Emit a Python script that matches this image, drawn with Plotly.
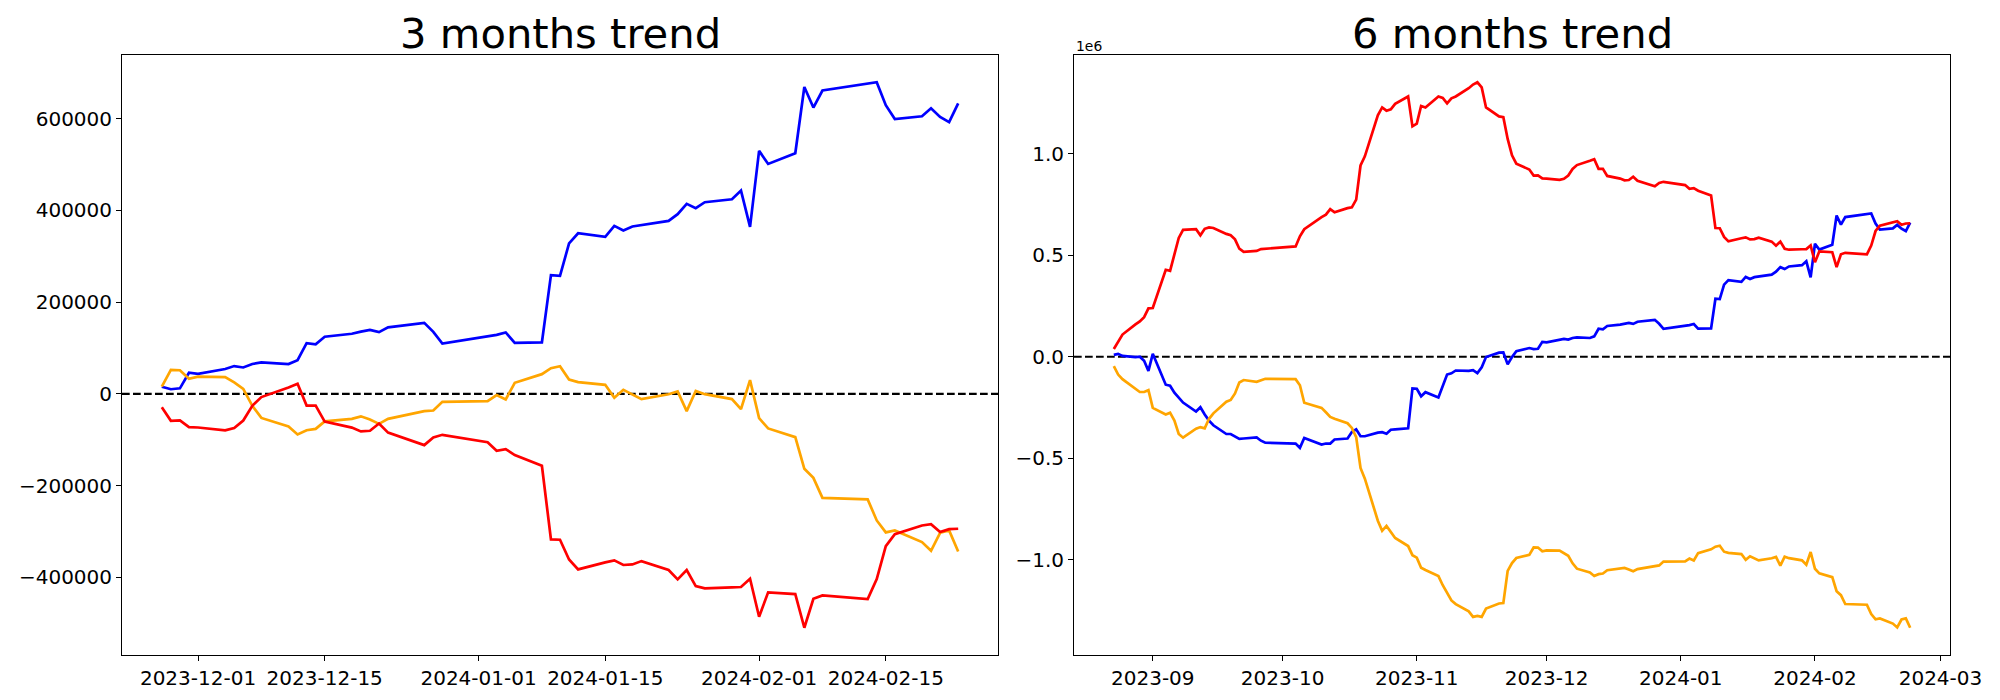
import plotly.graph_objects as go
import pandas as pd

# ---------------- data ----------------
L_DATES = ["2023-11-27", "2023-11-28", "2023-11-29", "2023-11-30", "2023-12-01",
           "2023-12-04", "2023-12-05", "2023-12-06", "2023-12-07", "2023-12-08",
           "2023-12-11", "2023-12-12", "2023-12-13", "2023-12-14", "2023-12-15",
           "2023-12-18", "2023-12-19", "2023-12-20", "2023-12-21", "2023-12-22",
           "2023-12-26", "2023-12-27", "2023-12-28",
           "2024-01-02", "2024-01-03", "2024-01-04", "2024-01-05",
           "2024-01-08", "2024-01-09", "2024-01-10", "2024-01-11", "2024-01-12",
           "2024-01-15", "2024-01-16", "2024-01-17", "2024-01-18", "2024-01-19",
           "2024-01-22", "2024-01-23", "2024-01-24", "2024-01-25", "2024-01-26",
           "2024-01-29", "2024-01-30", "2024-01-31", "2024-02-01", "2024-02-02",
           "2024-02-05", "2024-02-06", "2024-02-07", "2024-02-08",
           "2024-02-13", "2024-02-14", "2024-02-15", "2024-02-16",
           "2024-02-19", "2024-02-20", "2024-02-21", "2024-02-22", "2024-02-23"]

L_BLUE = [15500, 10000, 12000, 46000, 43500, 54000, 60500, 57500, 65000, 68500,
          65000, 73300, 110500, 108000, 124500, 131000, 135500, 139500, 134500, 145000,
          154700, 135000, 109800, 124200, 128500, 133800, 111000,
          112000, 258600, 257000, 327700, 350000, 342000, 366000, 356000, 364700, 368000,
          377000, 391500, 414000, 404500, 417600, 424000, 443000, 364000, 529500, 501000,
          524400, 668800, 624000, 661000, 675000, 679000, 629000, 599000,
          605000, 622400, 603500, 592000, 633000]

L_RED = [-29000, -58800, -58000, -72500, -73300, -79600, -74500, -58200, -26000, -7000,
         14000, 21800, -25500, -25700, -60500, -73500, -82000, -80500, -64600, -84500,
         -111800, -95000, -89300, -105300, -124200, -120500, -133500,
         -156800, -317300, -318000, -360900, -382600, -367400, -363000, -373000, -371700, -364500,
         -384000, -404400, -384000, -419000, -424000, -421800, -421000, -403000, -485900, -432700,
         -436400, -509700, -446600, -439300, -447300, -403700, -331800, -305700,
         -286800, -283900, -301300, -294800, -294000]

L_ORANGE = [15600, 52100, 51400, 32700, 37400, 36600, 24900, 10900, -26000, -52500,
            -71300, -88500, -79400, -76300, -60000, -54500, -49000, -56000, -65400, -54500,
            -37700, -36300, -17400, -16000, -2800, -12300, 24000,
            42900, 56000, 60300, 31300, 25500, 19600, -8700, 8700, -1400, -11500,
            -1000, 5200, -37700, 6500, -700, -11500, -33300, 29800, -53000, -75400,
            -94400, -163400, -183000, -226600, -230000, -275900, -302000, -297600,
            -323000, -342000, -302800, -297600, -343400]

R_DATES = ["2023-08-23", "2023-08-24", "2023-08-25", "2023-08-28", "2023-08-29", "2023-08-30", "2023-08-31",
           "2023-09-01", "2023-09-04", "2023-09-05", "2023-09-06", "2023-09-07", "2023-09-08",
           "2023-09-11", "2023-09-12", "2023-09-13", "2023-09-14", "2023-09-15",
           "2023-09-18", "2023-09-19", "2023-09-20", "2023-09-21", "2023-09-22",
           "2023-09-25", "2023-09-26", "2023-09-27",
           "2023-10-04", "2023-10-05", "2023-10-06",
           "2023-10-10", "2023-10-11", "2023-10-12", "2023-10-13",
           "2023-10-16", "2023-10-17", "2023-10-18", "2023-10-19", "2023-10-20",
           "2023-10-23", "2023-10-24", "2023-10-25", "2023-10-26", "2023-10-27",
           "2023-10-30", "2023-10-31",
           "2023-11-01", "2023-11-02", "2023-11-03",
           "2023-11-06", "2023-11-07", "2023-11-08", "2023-11-09", "2023-11-10",
           "2023-11-13", "2023-11-14", "2023-11-15", "2023-11-16", "2023-11-17",
           "2023-11-20", "2023-11-21", "2023-11-22", "2023-11-23", "2023-11-24",
           "2023-11-27", "2023-11-28", "2023-11-29", "2023-11-30", "2023-12-01",
           "2023-12-04", "2023-12-05", "2023-12-06", "2023-12-07", "2023-12-08",
           "2023-12-11", "2023-12-12", "2023-12-13", "2023-12-14", "2023-12-15",
           "2023-12-18", "2023-12-19", "2023-12-20", "2023-12-21", "2023-12-22",
           "2023-12-26", "2023-12-27", "2023-12-28",
           "2024-01-02", "2024-01-03", "2024-01-04", "2024-01-05",
           "2024-01-08", "2024-01-09", "2024-01-10", "2024-01-11", "2024-01-12",
           "2024-01-15", "2024-01-16", "2024-01-17", "2024-01-18", "2024-01-19",
           "2024-01-22", "2024-01-23", "2024-01-24", "2024-01-25", "2024-01-26",
           "2024-01-29", "2024-01-30", "2024-01-31", "2024-02-01", "2024-02-02",
           "2024-02-05", "2024-02-06", "2024-02-07", "2024-02-08",
           "2024-02-13", "2024-02-14", "2024-02-15", "2024-02-16",
           "2024-02-19", "2024-02-20", "2024-02-21", "2024-02-22", "2024-02-23"]

R_BLUE = [9000, 14000, 4000, -2000, 0, -20000, -70000,
          14000, -138000, -143000, -177000, -204000, -226000,
          -270000, -249000, -285000, -315000, -338000,
          -381000, -381000, -392000, -405000, -403000,
          -398000, -414000, -424000,
          -428000, -449000, -401000,
          -433000, -428000, -428000, -408000,
          -403000, -371000, -358000, -392000, -392000,
          -374000, -372000, -380000, -360000, -358000,
          -353000, -156000,
          -158000, -195000, -175000,
          -201000, -149000, -88000, -82000, -68000,
          -70000, -66000, -81000, -52000, -2000,
          20000, 21000, -38000, -2000, 27000,
          42500, 37000, 39000, 73000, 70500,
          81000, 87500, 84500, 92000, 95500,
          92000, 100300, 137500, 135000, 151500,
          158000, 162500, 166500, 161500, 172000,
          181700, 162000, 136800,
          151200, 155500, 160800, 138000,
          139000, 285600, 284000, 354700, 377000,
          369000, 393000, 383000, 391700, 395000,
          404000, 418500, 441000, 431500, 444600,
          451000, 470000, 391000, 556500, 528000,
          551400, 695800, 651000, 688000,
          702000, 706000, 656000, 626000,
          632000, 649400, 630500, 619000, 660000]

R_RED = [38000, 73000, 109000, 159000, 174000, 195000, 238000,
         240000, 428000, 423000, 500000, 585000, 625000,
         628000, 598000, 630000, 637000, 634000,
         605000, 598000, 578000, 532000, 517000,
         521000, 530000, 532000,
         543000, 593000, 628000,
         688000, 700000, 727000, 711000,
         732000, 736000, 774000, 942000, 987000,
         1189000, 1228000, 1212000, 1219000, 1246000,
         1282000, 1135000,
         1148000, 1235000, 1228000,
         1282000, 1275000, 1248000, 1273000, 1282000,
         1323000, 1341000, 1352000, 1327000, 1228000,
         1184000, 1180000, 1073000, 992000, 951000,
         922000, 892200, 893000, 878500, 877700,
         871400, 876500, 892800, 925000, 944000,
         965000, 972800, 925500, 925300, 890500,
         877500, 869000, 870500, 886400, 866500,
         839200, 856000, 861700,
         845700, 826800, 830500, 817500,
         794200, 633700, 633000, 590100, 568400,
         583600, 588000, 578000, 579300, 586500,
         567000, 546600, 567000, 532000, 527000,
         529200, 530000, 548000, 465100, 518300,
         514600, 441300, 504400, 511700,
         503700, 547300, 619200, 645300,
         664200, 667100, 649700, 656200, 657000]

R_ORANGE = [-47000, -88000, -111000, -159000, -174000, -174000, -165000,
            -252000, -285000, -276000, -315000, -381000, -399000,
            -355000, -347000, -353000, -306000, -279000,
            -222000, -213000, -181000, -127000, -115000,
            -124000, -118000, -109000,
            -111000, -141000, -227000,
            -252000, -274000, -297000, -306000,
            -328000, -351000, -396000, -548000, -601000,
            -808000, -858000, -834000, -861000, -893000,
            -933000, -978000,
            -990000, -1040000, -1051000,
            -1081000, -1126000, -1166000, -1201000, -1219000,
            -1255000, -1282000, -1277000, -1282000, -1241000,
            -1216000, -1214000, -1055000, -1017000, -992000,
            -976400, -939900, -940600, -959300, -954600,
            -955400, -967100, -981100, -1018000, -1044500,
            -1063300, -1080500, -1071400, -1068300, -1052000,
            -1046500, -1041000, -1048000, -1057400, -1046500,
            -1029700, -1028300, -1009400,
            -1008000, -994800, -1004300, -968000,
            -949100, -936000, -931700, -960700, -966500,
            -972400, -1000700, -983300, -993400, -1003500,
            -993000, -986800, -1029700, -985500, -992700,
            -1003500, -1025300, -962200, -1045000, -1067400,
            -1086400, -1155400, -1175000, -1218600,
            -1222000, -1267900, -1294000, -1289600,
            -1315000, -1334000, -1294800, -1289600, -1335400]

TITLES = ["3 months trend", "6 months trend"]

L_XTICKS = ["2023-12-01", "2023-12-15", "2024-01-01", "2024-01-15", "2024-02-01", "2024-02-15"]
L_XTICK_TEXT = ["2023-12-01", "2023-12-15", "2024-01-01", "2024-01-15", "2024-02-01", "2024-02-15"]
R_XTICKS = ["2023-09-01", "2023-10-01", "2023-11-01", "2023-12-01", "2024-01-01", "2024-02-01", "2024-03-01"]
R_XTICK_TEXT = ["2023-09", "2023-10", "2023-11", "2023-12", "2024-01", "2024-02", "2024-03"]

L_YTICKS = [-400000, -200000, 0, 200000, 400000, 600000]
L_YTICK_TEXT = ["\u2212400000", "\u2212200000", "0", "200000", "400000", "600000"]
R_YTICKS = [-1000000, -500000, 0, 500000, 1000000]
R_YTICK_TEXT = ["\u22121.0", "\u22120.5", "0.0", "0.5", "1.0"]
R_OFFSET_TEXT = "1e6"

# ---------------- styling ----------------
FONT = "DejaVu Sans"
W, H = 2000, 700
COL_BLUE, COL_RED, COL_ORANGE = "#0000ff", "#ff0000", "#ffa500"
LW = 2.7

AX_TOP, AX_BOT = 55, 655
L_X0, L_X1 = 122, 998
R_X0, R_X1 = 1074, 1950


def pad_num(vals_list, frac=0.05):
    lo = min(min(v) for v in vals_list)
    hi = max(max(v) for v in vals_list)
    s = hi - lo
    return [lo - frac * s, hi + frac * s]


def pad_dates(dates, frac=0.05):
    d0 = pd.Timestamp(dates[0])
    d1 = pd.Timestamp(dates[-1])
    s = d1 - d0
    return [(d0 - s * frac).isoformat(), (d1 + s * frac).isoformat()]


fig = go.Figure()

for xs, ys, col, xa, ya in [
    (L_DATES, L_BLUE, COL_BLUE, "x", "y"),
    (L_DATES, L_ORANGE, COL_ORANGE, "x", "y"),
    (L_DATES, L_RED, COL_RED, "x", "y"),
    (R_DATES, R_BLUE, COL_BLUE, "x2", "y2"),
    (R_DATES, R_ORANGE, COL_ORANGE, "x2", "y2"),
    (R_DATES, R_RED, COL_RED, "x2", "y2"),
]:
    fig.add_trace(go.Scatter(x=xs, y=ys, mode="lines",
                             line=dict(color=col, width=LW),
                             xaxis=xa, yaxis=ya, showlegend=False,
                             hoverinfo="skip"))

axis_common = dict(
    showline=True, linecolor="black", linewidth=1.1, mirror=True,
    ticks="outside", ticklen=4.9, tickwidth=1.1, tickcolor="black",
    showgrid=False, zeroline=False, automargin=False,
    tickfont=dict(family=FONT, size=20, color="black"),
)

ydom = [1 - AX_BOT / H, 1 - AX_TOP / H]

fig.update_layout(
    width=W, height=H,
    margin=dict(l=0, r=0, t=0, b=0),
    paper_bgcolor="white", plot_bgcolor="white",
    font=dict(family=FONT, color="black"),
    xaxis=dict(domain=[L_X0 / W, L_X1 / W], type="date", anchor="y",
               range=pad_dates(L_DATES), tickmode="array",
               tickvals=L_XTICKS, ticktext=L_XTICK_TEXT, **axis_common),
    yaxis=dict(domain=ydom, anchor="x",
               range=pad_num([L_BLUE, L_RED, L_ORANGE]), tickmode="array",
               tickvals=L_YTICKS, ticktext=L_YTICK_TEXT, **axis_common),
    xaxis2=dict(domain=[R_X0 / W, R_X1 / W], type="date", anchor="y2",
                range=pad_dates(R_DATES), tickmode="array",
                tickvals=R_XTICKS, ticktext=R_XTICK_TEXT, **axis_common),
    yaxis2=dict(domain=ydom, anchor="x2",
                range=pad_num([R_BLUE, R_RED, R_ORANGE]), tickmode="array",
                tickvals=R_YTICKS, ticktext=R_YTICK_TEXT, **axis_common),
)

for xr, yr in [("x domain", "y"), ("x2 domain", "y2")]:
    fig.add_shape(type="line", xref=xr, yref=yr, x0=0, x1=1, y0=0, y1=0,
                  line=dict(color="black", width=2.1, dash="7.7px,3.3px"),
                  layer="below")

title_y = 1 - 60 / H
fig.add_annotation(text=TITLES[0], x=(L_X0 + L_X1) / 2 / W, y=title_y,
                   xref="paper", yref="paper", xanchor="center", yanchor="bottom",
                   showarrow=False, font=dict(family=FONT, size=41.7, color="black"))
fig.add_annotation(text=TITLES[1], x=(R_X0 + R_X1) / 2 / W, y=title_y,
                   xref="paper", yref="paper", xanchor="center", yanchor="bottom",
                   showarrow=False, font=dict(family=FONT, size=41.7, color="black"))
fig.add_annotation(text=R_OFFSET_TEXT, x=R_X0 / W, y=1 - 56 / H,
                   xref="paper", yref="paper", xanchor="left", yanchor="bottom",
                   showarrow=False, font=dict(family=FONT, size=13.9, color="black"))

fig.write_html("out.html",
               config={"displayModeBar": False},
               post_script="document.body.style.margin='0';document.body.style.padding='0';")
